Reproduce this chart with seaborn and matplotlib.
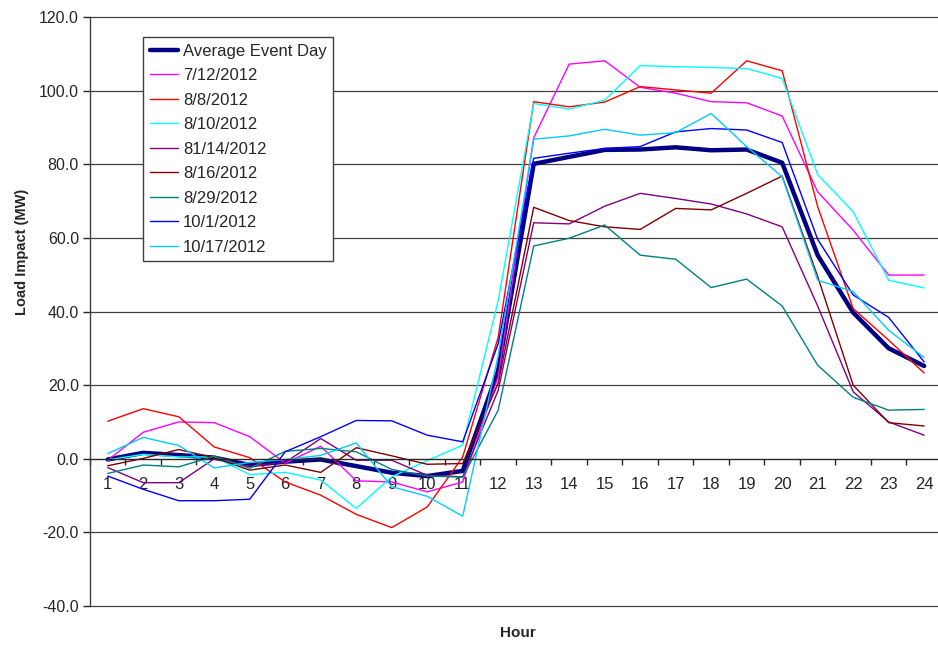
import numpy as np
import pandas as pd
import seaborn as sns
import matplotlib
matplotlib.use("Agg")
import matplotlib.pyplot as plt
from matplotlib.ticker import FixedLocator

# data (MW by hour)
hours = list(range(1, 25))
series_names = ["Average Event Day", "7/12/2012", "8/8/2012", "8/10/2012",
                "81/14/2012", "8/16/2012", "8/29/2012", "10/1/2012", "10/17/2012"]
avg_day = [-0.2, 1.6, 1.0, 0.3, -1.7, -0.8, -0.2, -2.0, -3.8, -4.7, -3.3, 24.0,
           80.1, 82.0, 83.9, 84.0, 84.6, 83.8, 84.0, 80.4, 55.3, 39.7, 30.0, 25.2]
d_0712 = [-0.4, 7.2, 10.0, 9.8, 6.0, -1.2, 3.4, -6.0, -6.3, -9.0, -6.3, 22.3,
          87.2, 107.2, 108.1, 100.9, 99.3, 97.0, 96.7, 93.1, 72.5, 62.1, 49.9, 49.9]
d_0808 = [10.2, 13.6, 11.4, 3.2, 0.3, -6.3, -9.9, -15.1, -18.7, -13.1, 0.5, 33.0,
          97.0, 95.6, 96.9, 101.1, 100.2, 99.3, 108.1, 105.4, 68.5, 40.8, 32.2, 23.3]
d_0810 = [-0.3, 1.2, 0.5, 0.5, -4.3, -3.7, -5.8, -13.5, -4.9, -0.5, 3.7, 43.0,
          96.5, 95.0, 97.4, 106.8, 106.5, 106.3, 106.0, 103.3, 77.2, 67.1, 48.5, 46.4]
d_0814 = [-2.4, -6.5, -6.5, 0.0, -2.0, -1.0, 5.5, -0.4, -0.4, -4.5, -4.9, 18.6,
          64.1, 63.8, 68.6, 72.1, 70.7, 69.2, 66.5, 63.0, 41.5, 18.2, 10.0, 6.4]
d_0816 = [-1.9, 0.1, 2.5, 0.3, -3.1, -1.7, -3.7, 3.0, 0.8, -1.5, -1.3, 20.5,
          68.3, 64.7, 63.0, 62.3, 68.0, 67.6, 72.1, 76.8, 49.5, 20.0, 9.8, 8.9]
d_0829 = [-4.0, -1.7, -2.2, 0.7, -2.6, 2.0, 2.8, 1.9, -2.9, -4.7, -5.0, 13.2,
          57.8, 59.9, 63.5, 55.3, 54.2, 46.5, 48.8, 41.5, 25.4, 16.7, 13.2, 13.4]
d_1001 = [-4.7, -8.3, -11.4, -11.4, -11.0, 1.9, 6.0, 10.4, 10.3, 6.4, 4.6, 31.3,
          81.6, 83.0, 84.3, 84.8, 88.8, 89.7, 89.3, 85.9, 59.6, 44.5, 38.4, 26.3]
d_1017 = [1.4, 5.8, 3.6, -2.5, -1.0, -0.2, 0.9, 4.3, -7.6, -10.2, -15.6, 28.0,
          86.8, 87.7, 89.5, 87.9, 88.6, 93.8, 84.8, 76.6, 48.5, 45.4, 34.9, 27.5]
y_ticks = [-40, -20, 0, 20, 40, 60, 80, 100, 120]

values = [avg_day, d_0712, d_0808, d_0810, d_0814, d_0816, d_0829, d_1001, d_1017]
colors = ["#000080", "#FF00FF", "#FF0000", "#00FFFF", "#800080",
          "#800000", "#008080", "#0000FF", "#00CCFF"]
widths = [3.2] + [1.0] * 8

df = pd.DataFrame({"Hour": hours * len(series_names),
                   "MW": np.concatenate(values),
                   "Series": np.repeat(series_names, len(hours))})

sns.set_style("white")
plt.rcParams["font.family"] = ["Liberation Sans", "DejaVu Sans"]

fig = plt.figure(figsize=(9.38, 6.46), dpi=100)
ax = fig.add_axes([90 / 938, 40 / 646, 848 / 938, 589 / 646])

for name, col, lw in zip(series_names, colors, widths):
    sns.lineplot(data=df[df["Series"] == name], x="Hour", y="MW", color=col,
                 linewidth=lw, label=name, ax=ax)

ax.set_xlim(0.5, 24.39)
ax.set_ylim(-40, 120)

# y axis
ax.set_yticks(y_ticks)
ax.set_yticklabels([f"{v:.1f}" for v in y_ticks], fontsize=11.5)
ax.tick_params(axis="y", direction="out", length=5, width=1, pad=3, left=True)
for v in y_ticks:
    if v != 0:
        ax.axhline(v, color="#404040", lw=0.9, zorder=0, clip_on=False)

# x axis crosses at zero, excel-style category ticks
ax.spines["top"].set_visible(False)
ax.spines["right"].set_visible(False)
ax.spines["bottom"].set_position(("data", 0))
ax.spines["bottom"].set_linewidth(1.0)
ax.spines["left"].set_linewidth(1.0)
ax.spines["left"].set_color("#404040")
ax.set_xticks(hours)
ax.set_xticklabels([str(h) for h in hours], fontsize=12)
ax.tick_params(axis="x", length=0, pad=13)
ax.xaxis.set_minor_locator(FixedLocator(np.arange(0.5, 25, 1)))
ax.tick_params(axis="x", which="minor", direction="out", length=4, width=1,
               bottom=True)

ax.set_xlabel("Hour", fontsize=11, fontweight="bold")
ax.xaxis.set_label_coords(0.505, -0.034)
ax.set_ylabel("Load Impact (MW)", fontsize=10.5, fontweight="bold")
ax.yaxis.set_label_coords(-0.080, 0.601)
ax.yaxis.label.set_verticalalignment("center")

leg = ax.legend(loc="upper left", bbox_to_anchor=(0.0625, 0.966),
                borderaxespad=0, fontsize=12, frameon=True, fancybox=False,
                edgecolor="#404040", framealpha=1, handlelength=1.7,
                handletextpad=0.3, labelspacing=0.57, borderpad=0.4)
leg.get_frame().set_linewidth(1.0)

fig.savefig("out.png", dpi=100)
